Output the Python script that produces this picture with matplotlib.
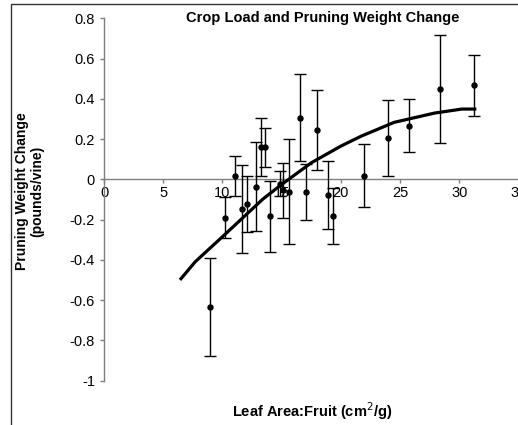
import matplotlib
matplotlib.use("Agg")
import matplotlib.pyplot as plt
from matplotlib.patches import Rectangle

plt.rcParams['font.family'] = ['Liberation Sans', 'DejaVu Sans']
plt.rcParams['axes.unicode_minus'] = False

# leaf area : fruit (cm2/g) per plot
leaf_fruit = [8.98, 10.25, 11.04, 11.66, 12.09, 12.8, 13.22, 13.59, 14.05, 14.86, 15.08,
              15.66, 16.55, 17.05, 17.97, 18.87, 19.32, 21.98, 23.96, 25.76, 28.39, 31.27]
# pruning weight change (pounds/vine)
weight_change = [-0.634, -0.19, 0.018, -0.148, -0.123, -0.036, 0.16, 0.16, -0.184, -0.021, -0.054,
                 -0.062, 0.306, -0.063, 0.246, -0.077, -0.183, 0.018, 0.206, 0.267, 0.448, 0.467]
# error bar half-lengths
weight_err = [0.245, 0.1, 0.1, 0.22, 0.14, 0.22, 0.145, 0.097, 0.177, 0.062, 0.136,
              0.26, 0.216, 0.14, 0.2, 0.17, 0.14, 0.155, 0.19, 0.13, 0.27, 0.15]

# trend line, points
trend_x = [6.5, 7.7, 10.1, 13.4, 14.9, 17.5, 20.0, 21.7, 24.5, 27.9, 30.2, 31.3]
trend_y = [-0.494, -0.41, -0.28, -0.099, -0.03, 0.082, 0.165, 0.214, 0.283, 0.329, 0.349, 0.349]

x_ticks = [0, 5, 10, 15, 20, 25, 30, 35]
y_ticks = [0.8, 0.6, 0.4, 0.2, 0, -0.2, -0.4, -0.6, -0.8, -1]

fig = plt.figure(figsize=(5.18, 4.25), dpi=100)
ax = fig.add_axes([0.2008, 0.1047, 0.8003, 0.8522])

ax.errorbar(leaf_fruit, weight_change, yerr=weight_err, fmt='o', color='black',
            ms=3.6, capsize=4.3, elinewidth=1.0, capthick=1.0, zorder=3)
ax.plot(trend_x, trend_y, color='black', lw=2.3, zorder=4)

ax.set_xlim(0, 35)
ax.set_ylim(-1, 0.8)
ax.set_xticks(x_ticks)
ax.set_xticklabels([str(t) for t in x_ticks])
ax.set_yticks(y_ticks)
ax.set_yticklabels(['{:g}'.format(t) for t in y_ticks])

# axes look like excel: x axis crosses at zero
ax.spines['top'].set_visible(False)
ax.spines['right'].set_visible(False)
ax.spines['bottom'].set_position(('data', 0))
for s in ['left', 'bottom']:
    ax.spines[s].set_color('#808080')
    ax.spines[s].set_linewidth(1.0)
ax.tick_params(axis='both', direction='out', length=3, width=1, color='#808080',
               labelsize=10.5, labelcolor='black')
ax.tick_params(axis='x', pad=2)
ax.patch.set_alpha(0)

fig.text(0.6226, 0.9565, 'Crop Load and Pruning Weight Change', ha='center', va='center',
         fontsize=10.5, fontweight='bold')
fig.text(0.058, 0.55, 'Pruning Weight Change\n(pounds/vine)', ha='center', va='center',
         rotation=90, fontsize=10, fontweight='bold', linespacing=1.1)
fig.text(0.602, 0.033, 'Leaf Area:Fruit (cm$^{2}$/g)', ha='center', va='center',
         fontsize=10.5, fontweight='bold')

# chart area border (cut off at right and bottom)
fig.patches.append(Rectangle((11 / 518, -0.5), 2, 0.9906 + 0.5, transform=fig.transFigure,
                             fill=False, edgecolor='#333333', lw=1.0))

fig.savefig('out.png', dpi=100)
